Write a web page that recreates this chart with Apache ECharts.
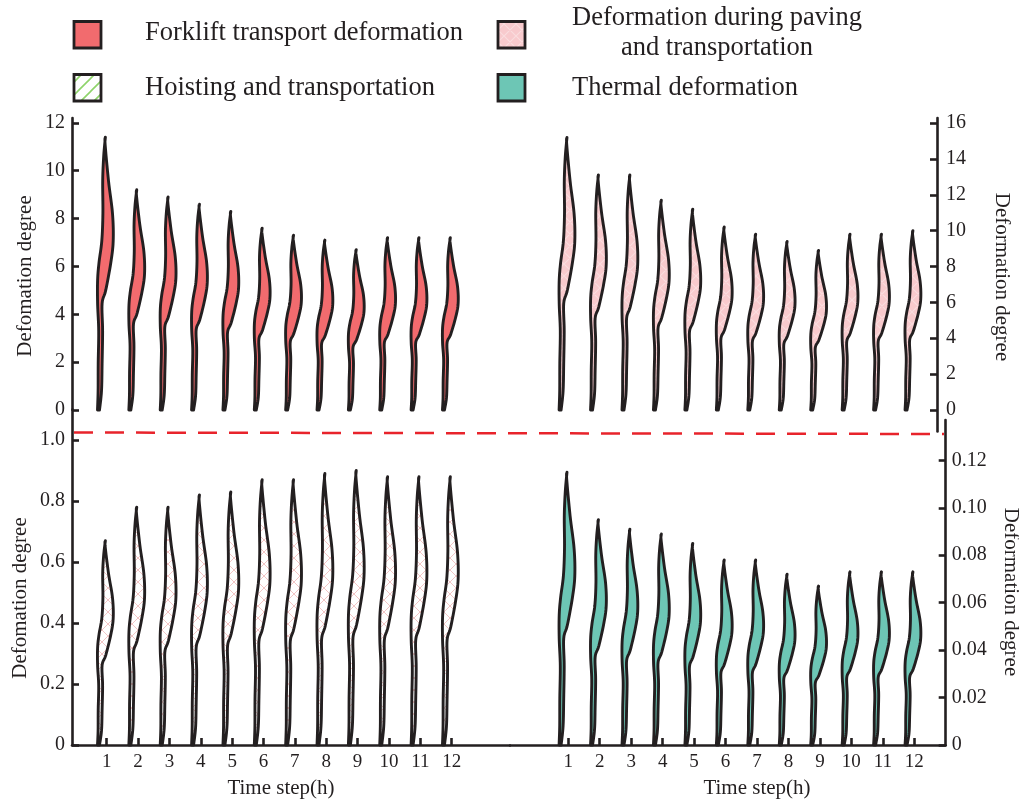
<!DOCTYPE html>
<html>
<head>
<meta charset="utf-8">
<script src="https://cdn.jsdelivr.net/npm/echarts@6/dist/echarts.min.js"></script>
<style>
  html, body { margin: 0; padding: 0; background: #fff; }
  #chart { width: 1019px; height: 803px; }
</style>
</head>
<body>
<div id="chart"></div>
<script>
// Time steps (h)
const steps = [1, 2, 3, 4, 5, 6, 7, 8, 9, 10, 11, 12];

// Peak deformation per time step for each process
const forkliftDeformation = [11.4, 9.2, 8.9, 8.6, 8.3, 7.6, 7.3, 7.1, 6.7, 7.2, 7.2, 7.2];
const pavingDeformation   = [15.2, 13.1, 13.1, 11.7, 11.2, 10.2, 9.8, 9.4, 8.9, 9.8, 9.8, 10.0];
const hoistingDeformation = [0.67, 0.78, 0.78, 0.82, 0.83, 0.87, 0.87, 0.89, 0.90, 0.88, 0.88, 0.88];
const thermalDeformation  = [0.115, 0.095, 0.091, 0.089, 0.085, 0.078, 0.078, 0.072, 0.067, 0.073, 0.073, 0.073];

// Tick labels
const ticksForklift = [0, 2, 4, 6, 8, 10, 12];
const ticksPaving   = [0, 2, 4, 6, 8, 10, 12, 14, 16];
const ticksHoisting = [0, 0.2, 0.4, 0.6, 0.8, 1.0];
const ticksThermal  = [0, 0.02, 0.04, 0.06, 0.08, 0.10, 0.12];

const INK = '#231f20';
const FONT = '"Liberation Serif", "Times New Roman", serif';

// Outline profile of one wavy glyph: [fraction of height, px offset from the step position]
const PROFILE_LEFT = [[0, -9.2], [0.07, -8.6], [0.17, -8.5], [0.29, -8.0], [0.39, -9.1], [0.475, -9.1],
                      [0.54, -7.7], [0.62, -4.9], [0.72, -3.8], [0.84, -4.0], [0.93, -3.0]];
const PROFILE_TIP = [1, -1.3];
const PROFILE_RIGHT = [[0.975, -1.6], [0.84, 1.8], [0.72, 5.8], [0.62, 6.5], [0.54, 4.1], [0.44, -0.9],
                       [0.39, -4.6], [0.29, -4.1], [0.17, -4.6], [0.07, -5.2], [0, -7.2]];

function spline(p, seg) {
  const out = [];
  for (let i = 0; i < p.length - 1; i++) {
    const p0 = p[i - 1] || p[i], p1 = p[i], p2 = p[i + 1], p3 = p[i + 2] || p[i + 1];
    for (let s = 0; s < seg; s++) {
      const t = s / seg, t2 = t * t, t3 = t2 * t;
      out.push([0, 1].map(k => 0.5 * (2 * p1[k] + (-p0[k] + p2[k]) * t +
        (2 * p0[k] - 5 * p1[k] + 4 * p2[k] - p3[k]) * t2 +
        (-p0[k] + 3 * p1[k] - 3 * p2[k] + p3[k]) * t3)));
    }
  }
  out.push(p[p.length - 1]);
  return out;
}

function glyph(fill) {
  return function (params, api) {
    const x = api.value(0), v = api.value(1);
    const base = api.coord([x, 0]);
    const top = api.coord([x, v]);
    const h = base[1] - top[1];
    const toPt = ([t, d]) => [base[0] + d, base[1] - t * h];
    const left = spline(PROFILE_LEFT.concat([PROFILE_TIP]).map(toPt), 8);
    const right = spline([PROFILE_TIP].concat(PROFILE_RIGHT).map(toPt), 8);
    const pts = left.concat(right.slice(1));
    return {
      type: 'polygon',
      shape: { points: pts },
      style: { fill: fill, stroke: INK, lineWidth: 2.9, lineJoin: 'round' }
    };
  };
}

function hatch(bg, color, size, cross, lw) {
  const c = document.createElement('canvas');
  c.width = c.height = size;
  const g = c.getContext('2d');
  if (bg) { g.fillStyle = bg; g.fillRect(0, 0, size, size); }
  g.strokeStyle = color;
  g.lineWidth = lw;
  g.beginPath();
  g.moveTo(-1, size + 1); g.lineTo(size + 1, -1);
  g.moveTo(-1, 1); g.lineTo(1, -1);
  g.moveTo(size - 1, size + 1); g.lineTo(size + 1, size - 1);
  if (cross) {
    g.moveTo(-1, -1); g.lineTo(size + 1, size + 1);
    g.moveTo(size - 1, -1); g.lineTo(size + 1, 1);
    g.moveTo(-1, size - 1); g.lineTo(1, size + 1);
  }
  g.stroke();
  return { image: c, repeat: 'repeat' };
}

const fillForklift = '#f26b6e';
const fillPaving = hatch('#f8cacd', 'rgba(255,255,255,0.35)', 12, true, 1.2);
const fillHoisting = hatch('#ffffff', 'rgba(232,150,150,0.55)', 12, true, 1);
const fillThermal = '#6dc6b5';
const fillHoistingKey = hatch('#ffffff', '#8ed46a', 13, false, 1.6);

// Horizontal placement of the step positions
const LEFT_X1 = 106.7, LEFT_STEP = 31.36;
const RIGHT_X1 = 568.3, RIGHT_STEP = 31.45;
function xRange(l, r, x1, step) {
  return { min: 1 + (l - x1) / step, max: 1 + (r - x1) / step };
}
const xTL = xRange(72, 510, LEFT_X1, LEFT_STEP);
const xTR = xRange(510, 937, RIGHT_X1, RIGHT_STEP);
const xBL = xRange(72, 510, LEFT_X1, LEFT_STEP);
const xBR = xRange(510, 945.7, RIGHT_X1, RIGHT_STEP);

const axisLine = { show: true, onZero: false, lineStyle: { color: INK, width: 2.6 } };
const labelStyle = { color: INK, fontFamily: FONT, fontSize: 20 };

function yAxis(grid, min, max, pos, ticks, margin, fmt) {
  return {
    type: 'value', gridIndex: grid, min: min, max: max, position: pos,
    axisLine: axisLine,
    axisTick: { show: true, inside: true, length: 7, customValues: ticks, lineStyle: { color: INK, width: 2.6 } },
    axisLabel: Object.assign({ customValues: ticks, margin: margin, formatter: fmt }, labelStyle),
    splitLine: { show: false }
  };
}
function xAxis(grid, range, show) {
  return {
    type: 'value', gridIndex: grid, min: range.min, max: range.max, show: show,
    axisLine: axisLine,
    axisTick: { show: true, inside: true, length: 7, customValues: steps, lineStyle: { color: INK, width: 2.6 } },
    axisLabel: Object.assign({ customValues: steps, margin: 8 }, labelStyle, { fontSize: 19 }),
    splitLine: { show: false }
  };
}

const pair = vals => steps.map((s, i) => [s, vals[i]]);

const yTitle = (text, x, y, rot) => ({
  type: 'text', x: x, y: y, rotation: rot,
  style: { text: text, font: '21px ' + FONT, fill: INK, align: 'center', verticalAlign: 'middle' }
});
const keyText = (text, x, y, align) => ({
  type: 'text', x: x, y: y,
  style: { text: text, font: '26.5px ' + FONT, fill: INK, align: align || 'left', verticalAlign: 'middle' }
});
const keyBox = (x, y, fill) => ({
  type: 'rect', shape: { x: x, y: y, width: 27, height: 26.5 },
  style: { fill: fill, stroke: INK, lineWidth: 2.8 }
});

const option = {
  animation: false,
  backgroundColor: '#ffffff',
  grid: [
    { left: 72, top: 118, width: 438, height: 292, outerBoundsMode: 'none' },
    { left: 510, top: 118, width: 427, height: 313.5, outerBoundsMode: 'none' },
    { left: 72, top: 409.5, width: 438, height: 335.5, outerBoundsMode: 'none' },
    { left: 510, top: 420, width: 435.7, height: 325, outerBoundsMode: 'none' }
  ],
  xAxis: [
    xAxis(0, xTL, false),
    xAxis(1, xTR, false),
    xAxis(2, xBL, true),
    xAxis(3, xBR, true)
  ],
  yAxis: [
    yAxis(0, 0, 12.2, 'left', ticksForklift, 7, v => String(v)),
    yAxis(1, -1.2, 16.28, 'right', ticksPaving, 9, v => String(v)),
    yAxis(2, 0, 1.1, 'left', ticksHoisting, 7, v => v === 0 ? '0' : v.toFixed(1)),
    yAxis(3, 0, 0.137, 'right', ticksThermal, 6, v => v === 0 ? '0' : v.toFixed(2))
  ],
  series: [
    { name: 'Forklift transport deformation', type: 'custom', xAxisIndex: 0, yAxisIndex: 0,
      renderItem: glyph(fillForklift), data: pair(forkliftDeformation), clip: false },
    { name: 'Deformation during paving and transportation', type: 'custom', xAxisIndex: 1, yAxisIndex: 1,
      renderItem: glyph(fillPaving), data: pair(pavingDeformation), clip: false },
    { name: 'Hoisting and transportation', type: 'custom', xAxisIndex: 2, yAxisIndex: 2,
      renderItem: glyph(fillHoisting), data: pair(hoistingDeformation), clip: false },
    { name: 'Thermal deformation', type: 'custom', xAxisIndex: 3, yAxisIndex: 3,
      renderItem: glyph(fillThermal), data: pair(thermalDeformation), clip: false }
  ],
  graphic: [
    // key
    keyBox(74, 21.5, fillForklift),
    keyText('Forklift transport deformation', 145, 33),
    keyBox(74, 74.5, fillHoistingKey),
    keyText('Hoisting and transportation', 145, 88),
    keyBox(498, 21.5, fillPaving),
    keyText('Deformation during paving', 717, 18, 'center'),
    keyText('and transportation', 717, 48, 'center'),
    keyBox(498, 74.5, fillThermal),
    keyText('Thermal deformation', 572, 88),
    // axis titles
    yTitle('Defomation degree', 25, 276, Math.PI / 2),
    yTitle('Defomation degree', 20, 598, Math.PI / 2),
    yTitle('Deformation degree', 1002, 277, -Math.PI / 2),
    yTitle('Deformation degree', 1011, 592, -Math.PI / 2),
    { type: 'text', x: 281, y: 788, style: { text: 'Time step(h)', font: '21px ' + FONT, fill: INK, align: 'center', verticalAlign: 'middle' } },
    { type: 'text', x: 757, y: 788, style: { text: 'Time step(h)', font: '21px ' + FONT, fill: INK, align: 'center', verticalAlign: 'middle' } },
    // separator between the upper and lower panels
    { type: 'line', shape: { x1: 74, y1: 432.5, x2: 944, y2: 434 },
      style: { stroke: '#e8232b', lineWidth: 2.5, lineDash: [19, 12] }, z: 10 }
  ]
};

const chart = echarts.init(document.getElementById('chart'), null, { renderer: 'canvas' });
chart.setOption(option);
</script>
</body>
</html>
